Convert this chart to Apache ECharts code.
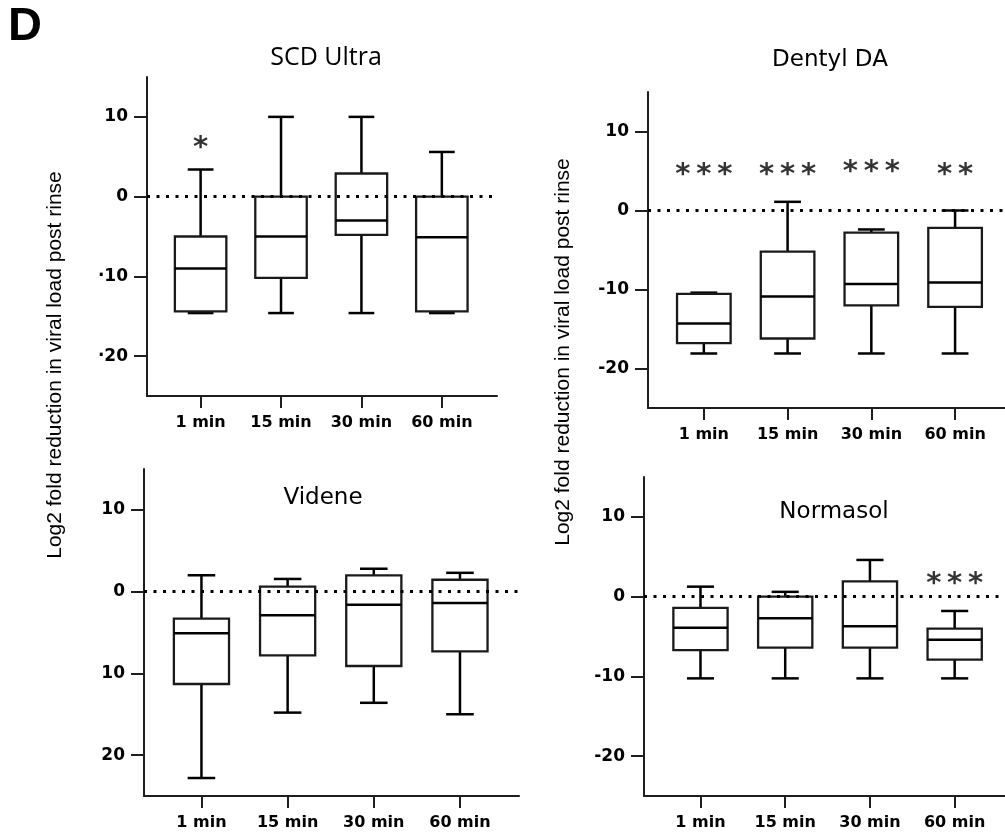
<!DOCTYPE html>
<html>
<head>
<meta charset="utf-8">
<script src="https://cdn.jsdelivr.net/npm/echarts@6/dist/echarts.min.js"></script>
<style>
  html, body { margin: 0; padding: 0; background: #fff; }
  #chart { width: 1005px; height: 835px; }
</style>
</head>
<body>
<div id="chart"></div>
<script>
// ---------- DATA ----------
const categories = ['1 min', '15 min', '30 min', '60 min'];
const yTickValues = [-20, -10, 0, 10];

const scdYLabels = ['·20', '·10', '0', '10'];
const dentylYLabels = ['-20', '-10', '0', '10'];
const videneYLabels = ['20', '10', '0', '10'];
const normasolYLabels = ['-20', '-10', '0', '10'];

// each box: [min, Q1, median, Q3, max]
const scdUltraBoxes = [
  [-14.6, -14.4, -9.0, -5.0, 3.4],
  [-14.6, -10.2, -5.0, 0.0, 10.0],
  [-14.6, -4.8, -3.0, 2.9, 10.0],
  [-14.6, -14.4, -5.1, 0.0, 5.6]
];
const dentylBoxes = [
  [-18.1, -16.8, -14.3, -10.55, -10.4],
  [-18.1, -16.2, -10.9, -5.2, 1.1],
  [-18.1, -12.0, -9.3, -2.8, -2.4],
  [-18.1, -12.2, -9.1, -2.2, 0.0]
];
const videneBoxes = [
  [-22.8, -11.3, -5.1, -3.3, 2.0],
  [-14.8, -7.8, -2.9, 0.6, 1.55],
  [-13.6, -9.1, -1.6, 2.0, 2.8],
  [-15.0, -7.3, -1.4, 1.45, 2.3]
];
const normasolBoxes = [
  [-10.25, -6.7, -3.9, -1.4, 1.25],
  [-10.25, -6.4, -2.7, 0.0, 0.6],
  [-10.25, -6.4, -3.7, 1.9, 4.6],
  [-10.25, -7.9, -5.4, -4.0, -1.8]
];

// significance marks and the height they sit at
const scdStars = ['*', '', '', ''];
const scdStarY = [6.8, 0, 0, 0];
const dentylStars = ['***', '***', '***', '**'];
const dentylStarY = [5.2, 5.2, 5.6, 5.2];
const videneStars = ['', '', '', ''];
const videneStarY = [0, 0, 0, 0];
const normasolStars = ['', '', '', '***'];
const normasolStarY = [0, 0, 0, 2.24];

const panelTitles = ['SCD Ultra', 'Dentyl DA', 'Videne', 'Normasol'];
const yAxisTitle = 'Log2 fold reduction in viral load post rinse';

// ---------- CHART ----------
const chart = echarts.init(document.getElementById('chart'), null, { renderer: 'canvas' });

const AXIS_COLOR = '#1e1e1e';
const FONT = '"DejaVu Sans", sans-serif';

function renderBox(params, api) {
  const x = api.value(0);
  const pMin = api.coord([x, api.value(1)]);
  const pQ1 = api.coord([x, api.value(2)]);
  const pMed = api.coord([x, api.value(3)]);
  const pQ3 = api.coord([x, api.value(4)]);
  const pMax = api.coord([x, api.value(5)]);
  const unit = api.size([1, 0])[0];
  const bw = unit * 0.64;
  const cw = unit * 0.32;
  const cx = pMin[0];
  const wStyle = { stroke: '#000', lineWidth: 2.5 };
  return {
    type: 'group',
    children: [
      { type: 'line', shape: { x1: cx, y1: pQ3[1], x2: cx, y2: pMax[1] }, style: wStyle },
      { type: 'line', shape: { x1: cx, y1: pQ1[1], x2: cx, y2: pMin[1] }, style: wStyle },
      { type: 'line', shape: { x1: cx - cw / 2, y1: pMax[1], x2: cx + cw / 2, y2: pMax[1] }, style: wStyle },
      { type: 'line', shape: { x1: cx - cw / 2, y1: pMin[1], x2: cx + cw / 2, y2: pMin[1] }, style: wStyle },
      { type: 'rect', shape: { x: cx - bw / 2, y: pQ3[1], width: bw, height: pQ1[1] - pQ3[1] },
        style: { fill: 'none', stroke: '#1a1a1a', lineWidth: 2.3 } },
      { type: 'line', shape: { x1: cx - bw / 2, y1: pMed[1], x2: cx + bw / 2, y2: pMed[1] },
        style: { stroke: '#000', lineWidth: 2.5 } }
    ]
  };
}

const panels = [
  { boxes: scdUltraBoxes, stars: scdStars, starY: scdStarY, yLabels: scdYLabels,
    grid: { left: 147, top: 77, width: 350, height: 319 }, xMax: 3.686 },
  { boxes: dentylBoxes, stars: dentylStars, starY: dentylStarY, yLabels: dentylYLabels,
    grid: { left: 648, top: 92, width: 357, height: 316 }, xMax: 3.596 },
  { boxes: videneBoxes, stars: videneStars, starY: videneStarY, yLabels: videneYLabels,
    grid: { left: 144, top: 469, width: 375, height: 327 }, xMax: 3.685 },
  { boxes: normasolBoxes, stars: normasolStars, starY: normasolStarY, yLabels: normasolYLabels,
    grid: { left: 644, top: 477, width: 361, height: 319 }, xMax: 3.594 }
];

const grids = [], xAxes = [], yAxes = [], series = [];
panels.forEach(function (p, k) {
  grids.push(Object.assign({ containLabel: false, outerBoundsMode: 'none' }, p.grid));
  xAxes.push({
    gridIndex: k, type: 'value', min: -2 / 3, max: p.xMax,
    axisLine: { show: true, onZero: false, lineStyle: { color: AXIS_COLOR, width: 2 } },
    axisTick: { show: true, length: 12, customValues: [0, 1, 2, 3], lineStyle: { color: AXIS_COLOR, width: 2 } },
    axisLabel: {
      show: true, customValues: [0, 1, 2, 3], margin: 19,
      formatter: function (v) { return categories[Math.round(v)]; },
      fontFamily: FONT, fontWeight: 'bold', fontSize: 16, color: '#000'
    },
    splitLine: { show: false }
  });
  const labels = p.yLabels;
  yAxes.push({
    gridIndex: k, type: 'value', min: -25, max: 15,
    axisLine: { show: true, onZero: false, lineStyle: { color: AXIS_COLOR, width: 2 } },
    axisTick: { show: true, length: 13, customValues: yTickValues, lineStyle: { color: AXIS_COLOR, width: 2 } },
    axisLabel: {
      show: true, customValues: yTickValues, margin: 19,
      formatter: function (v) { const i = yTickValues.indexOf(Math.round(v)); return i >= 0 ? labels[i] : ''; },
      fontFamily: FONT, fontWeight: 'bold', fontSize: 17, color: '#000'
    },
    splitLine: { show: false }
  });
  series.push({
    type: 'custom', xAxisIndex: k, yAxisIndex: k,
    renderItem: renderBox,
    encode: { x: 0, y: [1, 2, 3, 4, 5] },
    data: p.boxes.map(function (b, i) { return [i].concat(b); }),
    markLine: {
      silent: true, symbol: 'none', animation: false,
      label: { show: false },
      lineStyle: { type: [3, 6.5], color: '#000', width: 3 },
      data: [{ yAxis: 0 }]
    },
    z: 3
  });
  const starData = [];
  p.stars.forEach(function (s, i) {
    if (s) starData.push({ value: [i, p.starY[i]], name: s.split('').join('\u2009') });
  });
  series.push({
    type: 'scatter', xAxisIndex: k, yAxisIndex: k,
    symbolSize: 0, silent: true,
    data: starData,
    label: {
      show: true, position: 'inside', offset: [0, 6],
      formatter: '{b}', fontFamily: FONT, fontWeight: 'bold', fontSize: 29, color: '#000'
    },
    z: 4
  });
});

const titleStyles = [
  { left: 326, top: 58, font: '"Open Sans", sans-serif', size: 25 },
  { left: 830, top: 60, font: FONT, size: 23 },
  { left: 323, top: 498, font: FONT, size: 23 },
  { left: 834, top: 512, font: FONT, size: 23 }
];
const titles = panelTitles.map(function (t, i) {
  const s = titleStyles[i];
  return {
    text: t, left: s.left, top: s.top, padding: 0,
    textAlign: 'center', textVerticalAlign: 'middle',
    textStyle: { fontFamily: s.font, fontSize: s.size, fontWeight: 'normal', color: '#000' }
  };
});
titles.push({
  text: 'D', left: 25, top: 27, padding: 0,
  textAlign: 'center', textVerticalAlign: 'middle',
  textStyle: { fontFamily: '"Liberation Sans", Arial, sans-serif', fontSize: 47, fontWeight: 'bold', color: '#000' }
});

chart.setOption({
  animation: false,
  backgroundColor: '#fff',
  title: titles,
  grid: grids,
  xAxis: xAxes,
  yAxis: yAxes,
  series: series,
  graphic: [
    { type: 'text', x: 55, y: 365, rotation: Math.PI / 2,
      style: { text: yAxisTitle, align: 'center', verticalAlign: 'middle',
        font: '21px "Liberation Sans", Arial, sans-serif', fill: '#000' } },
    { type: 'text', x: 563, y: 352, rotation: Math.PI / 2,
      style: { text: yAxisTitle, align: 'center', verticalAlign: 'middle',
        font: '21px "Liberation Sans", Arial, sans-serif', fill: '#000' } }
  ]
});
</script>
</body>
</html>
